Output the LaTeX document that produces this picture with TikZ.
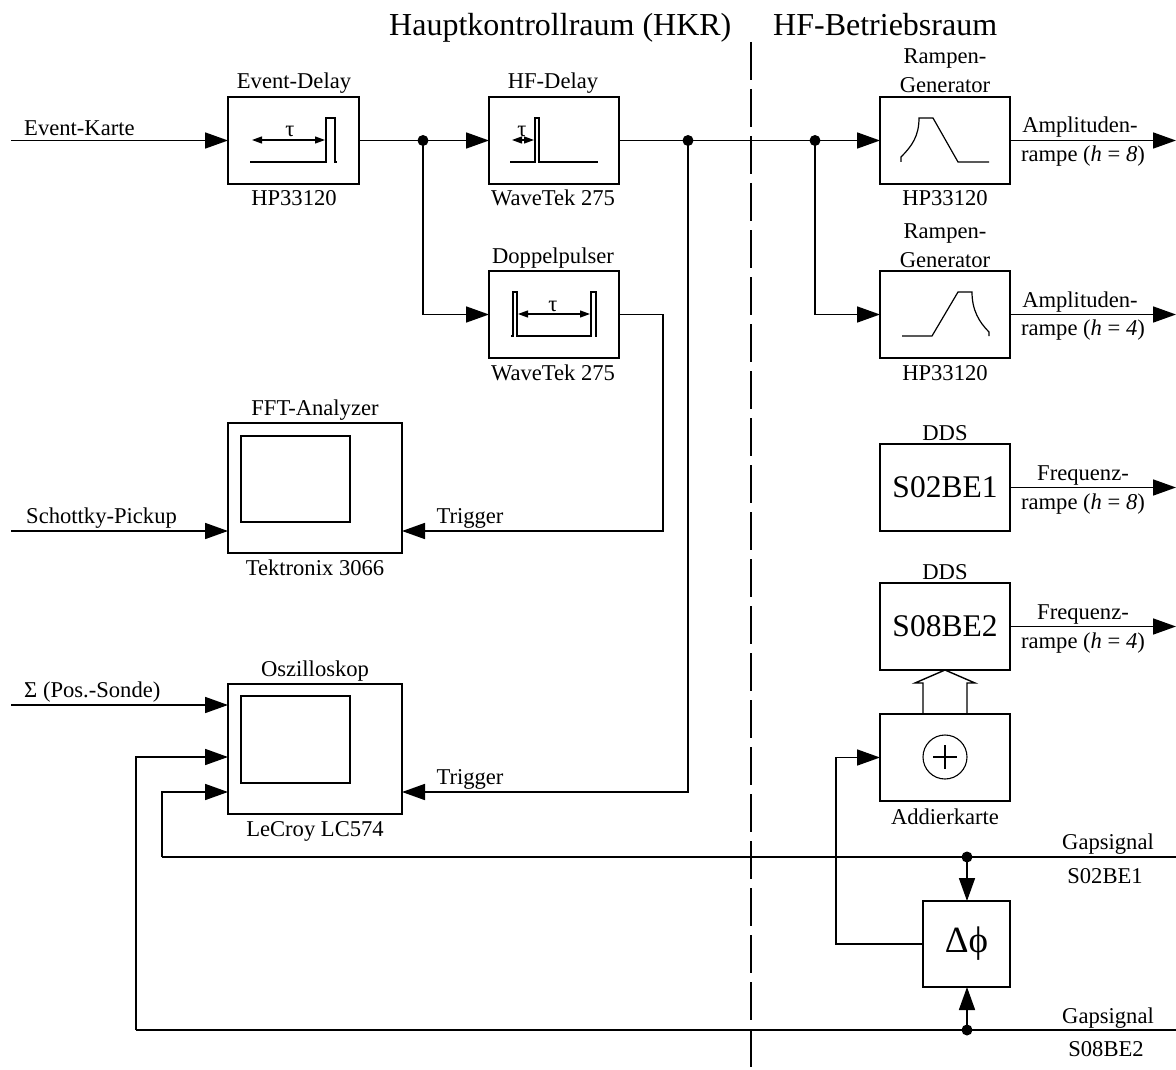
\documentclass[tikz,border=0pt]{standalone}
\usepackage{fontspec}
\setmainfont{Liberation Serif}
\usetikzlibrary{arrows.meta}
\tikzset{
  blk/.style={draw,line width=1.6pt,inner sep=0pt,outer sep=0pt,anchor=north west},
  inner/.style={draw,line width=1.1pt,inner sep=0pt,outer sep=0pt,anchor=north west},
  wire/.style={line width=1.7pt},
  arr/.style={wire,-{Triangle[length=23pt,width=16pt]}},
  thin pulse/.style={line width=1.2pt,line join=miter},
  small arr/.style={line width=1.2pt,{Triangle[length=10pt,width=7pt]}-{Triangle[length=10pt,width=7pt]}},
  dot/.style={circle,fill=black,inner sep=0pt,minimum size=11pt},
  lab/.style={anchor=base,inner sep=0pt,yshift=-1pt,font=\fontsize{22.6}{26}\selectfont},
  head/.style={anchor=base west,inner sep=0pt,yshift=-1pt,font=\fontsize{32}{38}\selectfont}
}
\newcommand{\bx}[5]{\node[blk,minimum width=#4pt,minimum height=#5pt] (#1) at (#2,#3) {};}
\begin{document}
\begin{tikzpicture}[x=1pt,y=-1pt]
\useasboundingbox (0,0) rectangle (1176,1070);
% headings
\node[head] (h1) at (389,35) {Hauptkontrollraum (HKR)};
\node[head] (h2) at (773,35) {HF-Betriebsraum};
\coordinate (sepT) at (751,42);
\coordinate (sepB) at (751,1070);
\draw[line width=1.3pt,dash pattern=on 38pt off 9pt] (sepT) -- (sepB);
% boxes
\bx{ed}{228}{97}{131}{87}
\bx{hf}{489}{97}{130}{87}
\bx{dp}{489}{271}{130}{87}
\bx{r1}{880}{97}{130}{87}
\bx{r2}{880}{271}{130}{87}
\bx{fft}{228}{423}{174}{130}
\bx{osc}{228}{684}{174}{130}
\node[inner,minimum width=109pt,minimum height=86pt] (fftin) at (241,436) {};
\node[inner,minimum width=109pt,minimum height=87pt] (oscin) at (241,696) {};
\node[blk,minimum width=130pt,minimum height=87pt,font=\fontsize{31.5}{36}\selectfont] (s2) at (880,444) {S02BE1};
\node[blk,minimum width=130pt,minimum height=87pt,font=\fontsize{31.5}{36}\selectfont] (s8) at (880,583) {S08BE2};
\bx{add}{880}{714}{130}{87}
\node[blk,minimum width=87pt,minimum height=86pt,font=\fontsize{37}{42}\selectfont] (dphi) at (923,901) {Δϕ};
% labels
\node[lab] (t1) at (294,88) {Event-Delay};
\node[lab] (t2) at (294,205) {HP33120};
\node[lab] (t3) at (553,88) {HF-Delay};
\node[lab] (t4) at (553,205) {WaveTek 275};
\node[lab] (t5) at (553,262) {Doppelpulser};
\node[lab] (t6) at (553,379) {WaveTek 275};
\node[lab] (t7) at (945,63) {Rampen-};
\node[lab] (t8) at (945,92) {Generator};
\node[lab] (t9) at (945,205) {HP33120};
\node[lab] (t10) at (945,237) {Rampen-};
\node[lab] (t11) at (945,266) {Generator};
\node[lab] (t12) at (945,379) {HP33120};
\node[lab] (t13) at (315,414) {FFT-Analyzer};
\node[lab] (t14) at (315,574) {Tektronix 3066};
\node[lab] (t15) at (315,675) {Oszilloskop};
\node[lab] (t16) at (315,835) {LeCroy LC574};
\node[lab] (t17) at (945,439) {DDS};
\node[lab] (t18) at (945,578) {DDS};
\node[lab] (t19) at (945,823) {Addierkarte};
\node[lab,anchor=base west] (t20) at (24,135) {Event-Karte};
\node[lab,anchor=base west] (t21) at (26,522) {Schottky-Pickup};
\node[lab,anchor=base west] (t22) at (24,696) {Σ (Pos.-Sonde)};
\node[lab] (t23) at (470,522) {Trigger};
\node[lab] (t24) at (470,783) {Trigger};
\node[lab] (t25) at (1080,132) {Amplituden-};
\node[lab] (t26) at (1083,160) {rampe (\textit{h} = \textit{8})};
\node[lab] (t27) at (1080,306) {Amplituden-};
\node[lab] (t28) at (1083,334) {rampe (\textit{h} = \textit{4})};
\node[lab] (t29) at (1083,479) {Frequenz-};
\node[lab] (t30) at (1083,508) {rampe (\textit{h} = \textit{8})};
\node[lab] (t31) at (1083,618) {Frequenz-};
\node[lab] (t32) at (1083,647) {rampe (\textit{h} = \textit{4})};
\node[lab] (t33) at (1108,848) {Gapsignal};
\node[lab] (t34) at (1105,882) {S02BE1};
\node[lab] (t35) at (1108,1022) {Gapsignal};
\node[lab] (t36) at (1106,1055) {S08BE2};
% taus
\node[lab] (tau1) at (290,136) {τ};
\node[lab] (tau2) at (522,136) {τ};
\node[lab] (tau3) at (553,310) {τ};
% junctions
\node[dot] (j1) at (423,140.5) {};
\node[dot] (j2) at (688,140.5) {};
\node[dot] (j3) at (815,140.5) {};
\node[dot] (j4) at (967,857) {};
\node[dot] (j5) at (967,1030) {};
% free ends and bends
\coordinate (inE) at (11,140.5);
\coordinate (inS) at (11,531);
\coordinate (inP) at (11,705);
\coordinate (o1) at (1176,140.5);
\coordinate (o2) at (1176,314.5);
\coordinate (o3) at (1176,487.5);
\coordinate (o4) at (1176,626.5);
\coordinate (g1) at (1176,857);
\coordinate (g2) at (1176,1030);
\coordinate (b1) at (423,314.5);
\coordinate (b2) at (815,314.5);
\coordinate (b3) at (663,314.5);
\coordinate (b4) at (663,531);
\coordinate (b5) at (688,792);
\coordinate (b6) at (162,857);
\coordinate (b7) at (162,792);
\coordinate (b8) at (136,1030);
\coordinate (b9) at (136,757);
\coordinate (b10) at (836,944);
\coordinate (b11) at (836,757.5);
% ports
\coordinate (fftP1) at (228,531);
\coordinate (fftP2) at (402,531);
\coordinate (oscP1) at (228,705);
\coordinate (oscP2) at (228,757);
\coordinate (oscP3) at (228,792);
\coordinate (oscP4) at (402,792);
\coordinate (dpP) at (619,314.5);
\coordinate (dphiT) at (967,901);
\coordinate (dphiB) at (967,987);
% connectors
\draw[arr] (inE) -- (ed.west);
\draw[wire] (ed.east) -- (j1.center);
\draw[arr] (j1.center) -- (hf.west);
\draw[wire] (hf.east) -- (j2.center) -- (j3.center);
\draw[arr] (j3.center) -- (r1.west);
\draw[arr] (j1.center) -- (b1) -- (dp.west);
\draw[arr] (j3.center) -- (b2) -- (r2.west);
\draw[arr] (r1.east) -- (o1);
\draw[arr] (r2.east) -- (o2);
\draw[arr] (s2.east) -- (o3);
\draw[arr] (s8.east) -- (o4);
\draw[arr] (dpP) -- (b3) -- (b4) -- (fftP2);
\draw[arr] (inS) -- (fftP1);
\draw[arr] (inP) -- (oscP1);
\draw[arr] (j2.center) -- (b5) -- (oscP4);
\draw[wire] (b6) -- (j4.center) -- (g1);
\draw[wire] (b8) -- (j5.center) -- (g2);
\draw[arr] (b6) -- (b7) -- (oscP3);
\draw[arr] (b8) -- (b9) -- (oscP2);
\draw[arr] (j4.center) -- (dphiT);
\draw[arr] (j5.center) -- (dphiB);
\draw[arr] (dphi.west) -- (b10) -- (b11) -- (add.west);
% hollow arrow
\draw[line width=1.4pt,line join=miter] (923,714) -- (923,683) -- (915,683) -- (945,670) -- (975,683) -- (967,683) -- (967,714);
% adder symbol
\node[draw,circle,line width=1.1pt,minimum size=44pt,inner sep=0pt] (plus) at (945,757) {};
\draw[line width=1.1pt] (plus.center) ++(-12,0) -- ++(24,0);
\draw[line width=1.1pt] (plus.center) ++(0,-12) -- ++(0,24);
% pulse shapes
\draw[thin pulse] (250,162) -- (326,162) -- (326,118) -- (335,118) -- (335,162) -- (337,162);
\draw[small arr] (252,140) -- (325,140);
\draw[thin pulse] (510,162) -- (535,162) -- (535,118) -- (539,118) -- (539,162) -- (598,162);
\draw[small arr] (512,140) -- (534,140);
\draw[thin pulse] (511,336) -- (513,336) -- (513,292) -- (517,292) -- (517,336) -- (591,336) -- (591,292) -- (596,292) -- (596,336) -- (597,336);
\draw[small arr] (518,314) -- (590,314);
\draw[thin pulse] (901,162) -- (901,157) .. controls (912,146) and (919,136) .. (919,118) -- (933,118) -- (958,162) -- (989,162);
\draw[thin pulse] (902,336) -- (932,336) -- (958,292) -- (972,292) .. controls (972,310) and (979,322) .. (989,332) -- (989,336);
\end{tikzpicture}
\end{document}
